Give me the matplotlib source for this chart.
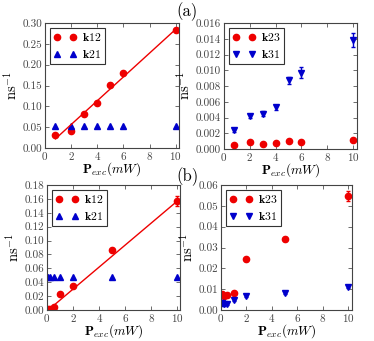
import numpy as np
import matplotlib
matplotlib.use('Agg')
import matplotlib.pyplot as plt

plt.rcParams['font.family'] = 'cmr10'
plt.rcParams['mathtext.fontset'] = 'cm'
plt.rcParams['axes.formatter.use_mathtext'] = True
plt.rcParams['axes.unicode_minus'] = False

# panel (a)
xa = [0.8, 2, 3, 4, 5, 6, 10]
a_k12 = [0.032, 0.042, 0.082, 0.108, 0.152, 0.180, 0.283]
a_k12_err = [0.002, 0.002, 0.002, 0.002, 0.003, 0.003, 0.003]
a_k21 = [0.053, 0.053, 0.053, 0.053, 0.053, 0.053, 0.053]
a_fit_x = [0.8, 10]
a_fit_y = [0.022, 0.285]
a_k23 = [0.0005, 0.0009, 0.0006, 0.0007, 0.0010, 0.0009, 0.0011]
a_k31 = [0.0024, 0.0042, 0.0045, 0.0053, 0.0087, 0.0097, 0.0138]
a_k31_err = [0.0002, 0.0003, 0.0003, 0.0003, 0.0004, 0.0007, 0.0009]

# panel (b)
xb = [0.1, 0.2, 0.5, 1, 2, 5, 10]
b_k12 = [0.001, 0.002, 0.005, 0.023, 0.035, 0.087, 0.157]
b_k12_err = [0.001, 0.001, 0.001, 0.001, 0.001, 0.001, 0.007]
b_k21 = [0.047, 0.047, 0.047, 0.047, 0.047, 0.047, 0.047]
b_fit_x = [0.1, 10]
b_fit_y = [0.0, 0.157]
b_k23 = [0.0075, 0.0068, 0.0070, 0.0082, 0.0243, 0.0340, 0.0547]
b_k23_err = [0.0005, 0.0005, 0.0005, 0.0005, 0.0008, 0.0009, 0.0025]
b_k31 = [0.0035, 0.0030, 0.0028, 0.0047, 0.0068, 0.0083, 0.0110]
b_k31_err = [0.0015, 0.0010, 0.0005, 0.0005, 0.0004, 0.0004, 0.0005]

W, H = 374, 341
fig = plt.figure(figsize=(W / 100, H / 100), dpi=100)

def add_ax(x0, y0, x1, y1):
    return fig.add_axes([x0 / W, 1 - y1 / H, (x1 - x0) / W, (y1 - y0) / H])

def style(ax, xmax, ymax, yticks, fmt):
    ax.set_xlim(0, xmax)
    ax.set_ylim(0, ymax)
    ax.set_xticks([0, 2, 4, 6, 8, 10])
    ax.set_yticks(yticks)
    ax.set_yticklabels([fmt % v for v in yticks])
    ax.tick_params(direction='in', top=True, right=True, labelsize=8,
                   length=3, width=0.6, pad=2, colors='#555555', labelcolor='#444444')
    ax.tick_params(axis='x', pad=1.5)
    for s in ax.spines.values():
        s.set_color('#444444')
        s.set_linewidth(0.8)
    ax.set_xlabel(r'$\mathbf{P}_{exc}(mW)$', fontsize=9.5, labelpad=-1)
    ax.set_ylabel(r'$\mathrm{ns}^{-1}$', fontsize=10.5, labelpad=2)

def legend(ax):
    leg = ax.legend(loc='upper left', numpoints=2, fontsize=8.5, handlelength=2,
                    borderpad=0.3, labelspacing=0.4, handletextpad=0.4,
                    fancybox=False, framealpha=1, borderaxespad=0.4)
    leg.get_frame().set_edgecolor('#333333')
    leg.get_frame().set_linewidth(0.8)

def series(ax, x, y, err, marker, color, label):
    if err is not None:
        ax.errorbar(x, y, yerr=err, fmt='none', ecolor=color, elinewidth=1, capsize=1.5)
    ax.plot(x, y, marker, color=color, ms=4.5, label=label)

red = '#ee0000'
blue = '#0000cc'

ax = add_ax(45, 23, 179, 148)
series(ax, xa, a_k12, a_k12_err, 'o', red, r'$\mathbf{k12}$')
series(ax, xa, a_k21, None, '^', blue, r'$\mathbf{k21}$')
ax.plot(a_fit_x, a_fit_y, color=red, lw=1)
style(ax, 10.25, 0.30, [0, 0.05, 0.10, 0.15, 0.20, 0.25, 0.30], '%.2f')
legend(ax)

ax = add_ax(224, 23, 357, 149)
series(ax, xa, a_k23, None, 'o', red, r'$\mathbf{k23}$')
series(ax, xa, a_k31, a_k31_err, 'v', blue, r'$\mathbf{k31}$')
style(ax, 10.3, 0.016, [0, 0.002, 0.004, 0.006, 0.008, 0.010, 0.012, 0.014, 0.016], '%.3f')
legend(ax)

ax = add_ax(47, 185, 180, 310)
series(ax, xb, b_k12, b_k12_err, 'o', red, r'$\mathbf{k12}$')
series(ax, xb, b_k21, None, '^', blue, r'$\mathbf{k21}$')
ax.plot(b_fit_x, b_fit_y, color=red, lw=1)
style(ax, 10.2, 0.18, [0, 0.02, 0.04, 0.06, 0.08, 0.10, 0.12, 0.14, 0.16, 0.18], '%.2f')
legend(ax)

ax = add_ax(221, 185, 352, 310)
series(ax, xb, b_k23, b_k23_err, 'o', red, r'$\mathbf{k23}$')
series(ax, xb, b_k31, b_k31_err, 'v', blue, r'$\mathbf{k31}$')
style(ax, 10.3, 0.06, [0, 0.01, 0.02, 0.03, 0.04, 0.05, 0.06], '%.2f')
legend(ax)

fig.text(187 / W, 1 - 12 / H, '(a)', fontsize=12, ha='center', va='center')
fig.text(187 / W, 1 - 177 / H, '(b)', fontsize=12, ha='center', va='center')

fig.savefig('out.png', dpi=100)
